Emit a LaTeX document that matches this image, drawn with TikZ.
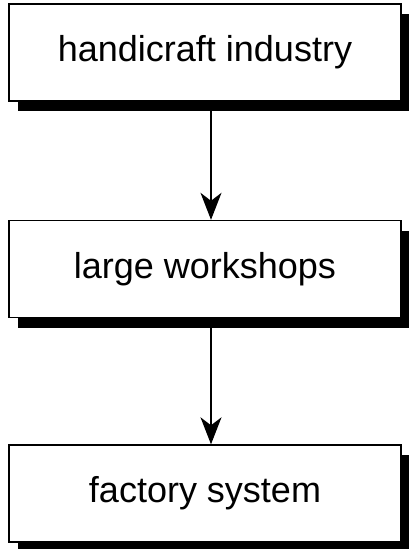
\documentclass[tikz,border=0pt]{standalone}
\usepackage{fontspec}
\setmainfont{Liberation Sans}
\usetikzlibrary{arrows.meta,shadows}
\begin{document}
\begin{tikzpicture}[x=1pt,y=1pt,
  stage/.style={rectangle, draw=black, line width=1.4pt, fill=white,
    minimum width=392pt, minimum height=97pt, inner sep=0pt,
    font=\fontsize{36}{40}\selectfont,
    drop shadow={shadow xshift=9pt, shadow yshift=-10pt, fill=black, opacity=1}},
  flow/.style={line width=1.2pt, -{Stealth[length=27pt,width=21pt,inset=8pt]}}]
\useasboundingbox (0,0) rectangle (409,-549);
\node [stage] (craft) at (205,-52.5) {handicraft industry};
\node [stage] (shops) at (205,-269) {large workshops};
\node [stage] (factory) at (205,-493.5) {factory system};
\draw [flow] ([xshift=6pt]craft.south) -- ([xshift=6pt]shops.north);
\draw [flow] ([xshift=6pt]shops.south) -- ([xshift=6pt]factory.north);
\end{tikzpicture}
\end{document}
